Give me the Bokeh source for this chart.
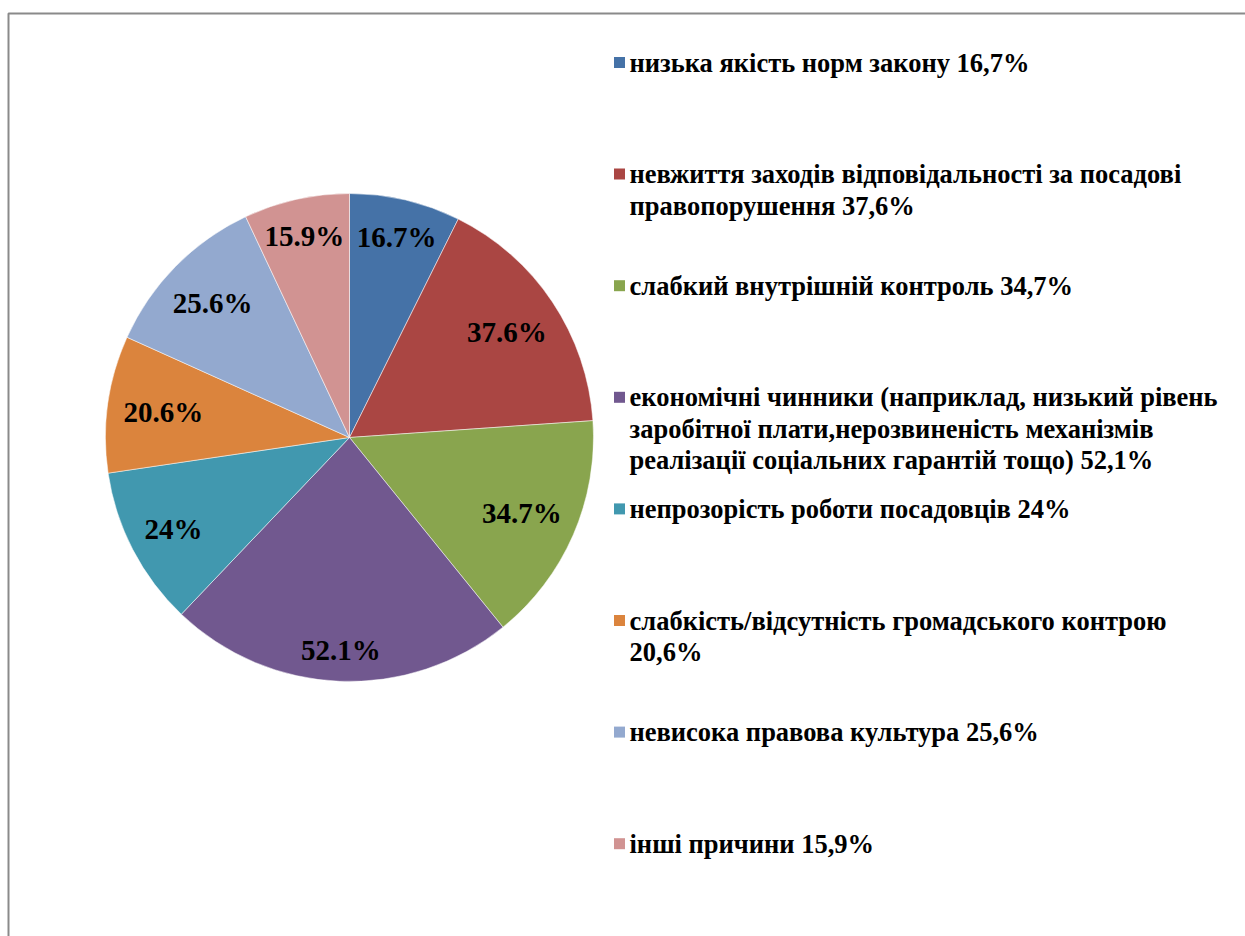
import math
from bokeh.plotting import figure
from bokeh.models import ColumnDataSource
from bokeh.core.properties import value
from bokeh.embed import file_html
from bokeh.resources import INLINE

# ---- data ----
categories = [
    "низька якість норм закону 16,7%",
    "невжиття заходів відповідальності за посадові\nправопорушення 37,6%",
    "слабкий внутрішній контроль 34,7%",
    "економічні чинники (наприклад, низький рівень\nзаробітної плати,нерозвиненість механізмів\nреалізації соціальних гарантій тощо) 52,1%",
    "непрозорість роботи посадовців 24%",
    "слабкість/відсутність громадського контрою\n20,6%",
    "невисока правова культура 25,6%",
    "інші причини 15,9%",
]
values = [16.7, 37.6, 34.7, 52.1, 24.0, 20.6, 25.6, 15.9]
slice_labels = ["16.7%", "37.6%", "34.7%", "52.1%", "24%", "20.6%", "25.6%", "15.9%"]
colors = ["#4572A7", "#AA4643", "#89A54E", "#71588F", "#4198AF", "#DB843D", "#93A9CF", "#D19392"]

W, H = 1245, 936
FONT = "Liberation Serif"
LABEL_PX = 29

p = figure(width=W, height=H, x_range=(0, W), y_range=(0, H),
           output_backend="svg", toolbar_location=None, min_border=0)
p.axis.visible = False
p.grid.visible = False
p.outline_line_color = None
p.background_fill_color = "white"
p.border_fill_color = "white"

# frame border (chart area)
p.line(x=[8, 8, W + 5], y=[-5, H - 13, H - 13], line_color="#8a8a8a", line_width=2)

# ---- pie ----
cx, cy, R = 349, H - 437, 244
total = sum(values)
starts, ends, mids = [], [], []
cum = 0.0
for v in values:
    a0 = math.pi / 2 - cum / total * 2 * math.pi
    cum += v
    a1 = math.pi / 2 - cum / total * 2 * math.pi
    starts.append(a0)
    ends.append(a1)
    mids.append((a0 + a1) / 2)

src = ColumnDataSource(dict(start=starts, end=ends, color=colors))
p.wedge(x=cx, y=cy, radius=R, start_angle="start", end_angle="end",
        direction="clock", fill_color="color", line_color="white",
        line_alpha=0.5, line_width=1, source=src)


# "best fit" inside labels: push label box outward until its far corner
# sits a fixed distance inside the rim
def text_w(s):
    w = 0.0
    for ch in s:
        w += 1.0 if ch == "%" else (0.25 if ch == "." else 0.5)
    return w * LABEL_PX


D = R - 15
hh = 11
lx, ly = [], []
for s, m in zip(slice_labels, mids):
    a, b = abs(math.cos(m)), abs(math.sin(m))
    hw = text_w(s) / 2
    k = a * hw + b * hh
    r = -k + math.sqrt(k * k - (hw * hw + hh * hh - D * D))
    lx.append(cx + r * math.cos(m))
    ly.append(cy + r * math.sin(m))

p.text(x=lx, y=ly, text=slice_labels, text_font=value(FONT), text_font_style="bold",
       text_font_size=f"{LABEL_PX}px", text_color="black", text_align="center",
       text_baseline="middle")

# ---- legend ----
leg_x = 619
leg_y0 = H - 62
step = 111.6
line_gap = 31.5
ly_leg = [leg_y0 - i * step for i in range(len(categories))]
p.rect(x=[leg_x] * len(categories), y=ly_leg, width=11, height=11,
       fill_color=colors, line_color=None)
tx, ty, tt = [], [], []
for i, cat in enumerate(categories):
    for j, line in enumerate(cat.split("\n")):
        tx.append(leg_x + 10)
        ty.append(ly_leg[i] - j * line_gap)
        tt.append(line)
p.text(x=tx, y=ty, text=tt,
       text_font=value(FONT), text_font_style="bold", text_font_size="26.5px",
       text_color="black", text_align="left", text_baseline="middle")

open("out.html", "w").write(file_html(p, INLINE))
